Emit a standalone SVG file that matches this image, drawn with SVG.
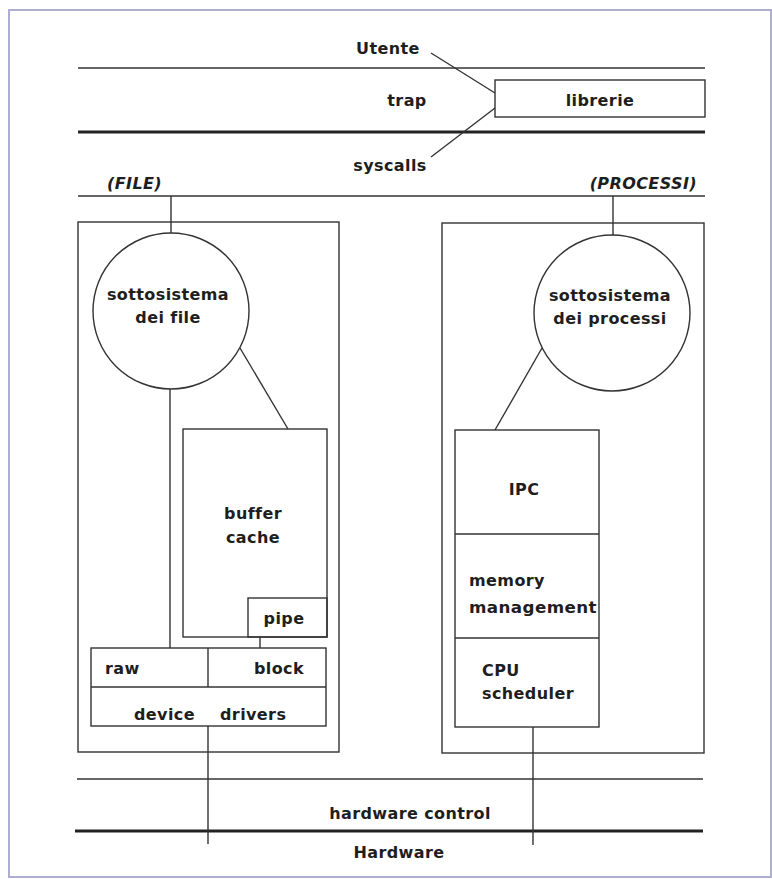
<svg xmlns="http://www.w3.org/2000/svg" width="772" height="879" viewBox="0 0 772 879">
<style>
.ln{stroke:#333;stroke-width:1.4;fill:none}
.thk{stroke:#222;stroke-width:3;fill:none}
.bx{stroke:#333;stroke-width:1.4;fill:none}
.t{font-family:"DejaVu Sans","Liberation Sans",sans-serif;font-weight:bold;font-size:16px;letter-spacing:0.4px;fill:#1e1e1e}
.c{text-anchor:middle}
.i{font-style:italic}
</style>
<rect x="0" y="0" width="772" height="879" fill="#fff"/>
<rect x="9" y="10" width="762" height="867" fill="none" stroke="#aeaed0" stroke-width="2"/>

<g id="layers">
<line class="ln" x1="78" y1="68" x2="705" y2="68"/>
<line class="thk" x1="78" y1="132" x2="705" y2="132"/>
<line class="ln" x1="78" y1="196" x2="705" y2="196"/>
<line class="ln" x1="77" y1="779" x2="703" y2="779"/>
<line class="thk" x1="75" y1="831" x2="703" y2="831"/>
<text class="t c" x="388" y="54">Utente</text>
<text class="t c" x="407" y="106">trap</text>
<text class="t c" x="390" y="171">syscalls</text>
<text class="t i" x="107" y="189">(FILE)</text>
<text class="t i" x="697" y="189" text-anchor="end">(PROCESSI)</text>
<text class="t c" x="410" y="819">hardware control</text>
<text class="t c" x="399" y="858">Hardware</text>
</g>

<g id="librerie">
<rect class="bx" x="495" y="80" width="210" height="37"/>
<text class="t c" x="600" y="106">librerie</text>
</g>

<g id="file-container"><rect class="bx" x="78" y="222" width="261" height="530"/></g>
<g id="proc-container"><rect class="bx" x="442" y="223" width="262" height="530"/></g>

<g id="sottosistema-file">
<circle class="bx" cx="171" cy="311" r="78"/>
<text class="t c" x="168" y="300">sottosistema</text>
<text class="t c" x="168" y="323">dei file</text>
</g>

<g id="buffer-cache">
<rect class="bx" x="183" y="429" width="144" height="208"/>
<text class="t c" x="253" y="519">buffer</text>
<text class="t c" x="253" y="543">cache</text>
</g>

<g id="pipe">
<rect class="bx" x="248" y="598" width="79" height="39"/>
<text class="t c" x="284" y="624">pipe</text>
</g>

<g id="device-drivers">
<rect class="bx" x="91" y="648" width="235" height="78"/>
<line class="ln" x1="91" y1="687" x2="326" y2="687"/>
<line class="ln" x1="208" y1="648" x2="208" y2="687"/>
<text class="t" x="105" y="674">raw</text>
<text class="t" x="304" y="674" text-anchor="end">block</text>
<text class="t" x="134" y="720">device</text>
<text class="t" x="220" y="720">drivers</text>
</g>

<g id="sottosistema-processi">
<circle class="bx" cx="612" cy="313" r="78"/>
<text class="t c" x="610" y="301">sottosistema</text>
<text class="t c" x="610" y="324">dei processi</text>
</g>

<g id="process-stack">
<rect class="bx" x="455" y="430" width="144" height="297"/>
<line class="ln" x1="455" y1="534" x2="599" y2="534"/>
<line class="ln" x1="455" y1="638" x2="599" y2="638"/>
<text class="t c" x="524" y="495">IPC</text>
<text class="t" x="469" y="586">memory</text>
<text class="t" x="469" y="613" textLength="128" lengthAdjust="spacingAndGlyphs">management</text>
<text class="t" x="482" y="676">CPU</text>
<text class="t" x="482" y="699">scheduler</text>
</g>

<g id="connectors">
<line class="ln" x1="431" y1="53" x2="495" y2="93"/>
<line class="ln" x1="495" y1="108" x2="431" y2="157"/>
<line class="ln" x1="171" y1="196" x2="171" y2="233"/>
<line class="ln" x1="613" y1="196" x2="613" y2="235"/>
<line class="ln" x1="170" y1="389" x2="170" y2="648"/>
<line class="ln" x1="240" y1="348" x2="288" y2="429"/>
<line class="ln" x1="542" y1="348" x2="495" y2="430"/>
<line class="ln" x1="260" y1="637" x2="260" y2="648"/>
<line class="ln" x1="208" y1="726" x2="208" y2="844"/>
<line class="ln" x1="533" y1="727" x2="533" y2="845"/>
</g>
</svg>
